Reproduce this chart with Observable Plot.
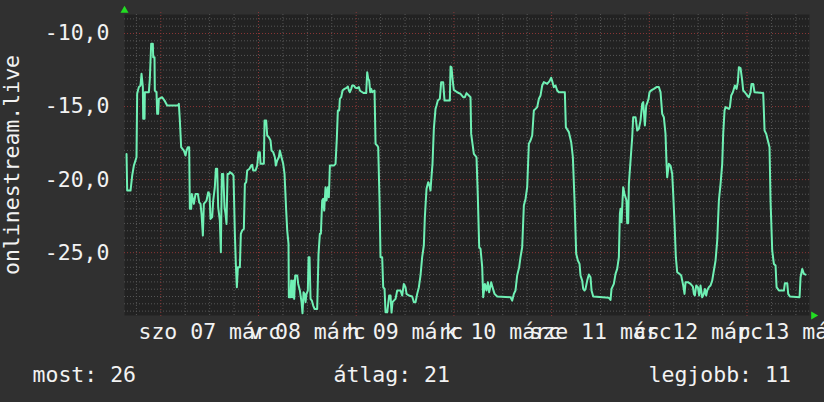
<!DOCTYPE html>
<html><head><meta charset="utf-8">
<script src="https://cdn.jsdelivr.net/npm/d3@7"></script>
<script src="https://cdn.jsdelivr.net/npm/@observablehq/plot@0.6"></script>
<style>
html,body{margin:0;padding:0;background:#303030;}
#chart{position:relative;width:824px;height:402px;overflow:hidden;}
</style></head><body><div id="chart"></div>
<script>
// hours since 2020-03-06 00:00 (local)
const hours = [
15.58,15.74,16.56,16.97,17.38,18.03,18.19,18.60,19.01,19.26,
19.59,19.67,20.00,20.08,21.06,21.31,21.63,22.04,22.13,22.45,
22.53,22.94,23.11,23.35,23.52,24.34,24.91,25.56,28.19,28.43,
28.68,29.00,29.66,30.07,30.31,30.64,30.97,31.13,31.46,31.62,
32.12,32.53,33.10,33.43,33.75,34.00,34.33,34.57,35.23,35.64,
35.96,36.21,36.62,36.87,37.27,37.52,37.85,38.09,38.50,38.75,
38.99,39.32,39.65,39.90,40.14,40.39,40.71,40.96,41.53,41.86,
42.19,42.43,42.68,42.93,43.42,43.66,43.99,44.40,44.65,44.97,
45.22,45.79,46.20,46.45,46.69,47.27,47.68,48.00,48.33,48.49,
49.31,49.48,49.89,50.13,50.54,50.95,51.20,51.61,52.02,52.26,
52.59,53.00,53.24,53.65,54.06,54.39,54.80,55.05,55.37,55.45,
55.86,56.03,56.27,56.52,56.76,57.01,57.50,57.75,58.16,58.57,
58.81,59.06,59.30,59.55,59.79,60.12,60.29,60.53,60.78,61.10,
61.43,61.76,62.41,62.74,63.07,63.32,63.64,63.89,64.13,64.46,
64.71,65.04,65.28,65.53,66.51,66.92,67.25,67.49,67.82,67.98,
68.31,68.64,69.13,69.62,69.95,70.20,70.44,70.77,71.01,71.42,
71.83,72.24,72.65,72.90,73.22,73.88,74.45,74.70,74.94,75.19,
75.44,75.68,75.93,76.50,76.75,77.16,77.40,77.73,77.97,78.38,
78.63,78.96,79.20,79.61,79.86,80.10,80.43,80.68,80.92,81.25,
81.66,82.07,82.48,
82.88,83.29,83.70,84.11,84.36,84.93,85.75,86.16,86.57,86.98,
87.39,87.80,88.20,88.61,88.86,89.27,89.68,90.01,90.25,90.42,
90.74,91.07,91.48,91.73,92.05,92.54,92.87,93.36,93.69,95.00,
95.17,95.41,95.66,95.98,96.80,97.62,98.28,98.69,99.10,99.67,
100.08,100.24,100.90,101.55,101.88,102.21,102.54,102.95,103.19,103.60,
104.01,104.34,104.66,105.16,105.48,105.98,106.63,109.91,110.32,110.73,
111.13,111.54,112.03,112.36,112.77,113.18,113.59,114.00,114.41,114.82,
115.23,115.64,116.05,116.46,116.87,117.28,117.69,118.09,118.91,119.49,
119.90,120.22,120.55,120.96,121.37,121.78,123.25,123.50,124.24,124.81,
125.22,125.63,126.04,126.45,126.86,127.10,127.51,127.76,128.09,128.33,
128.74,129.15,129.56,129.81,130.22,134.06,134.47,134.72,135.29,135.70,
136.11,136.52,136.77,136.93,137.18,137.42,137.59,137.91,138.40,138.57,
138.81,138.98,139.39,139.80,140.04,140.62,141.03,141.43,141.84,142.25,
142.50,142.91,143.24,143.56,143.81,144.05,144.46,145.12,145.77,146.35,
146.76,147.17,147.57,147.98,148.23,148.39,148.80,149.21,149.62,149.87,
150.20,150.52,150.85,151.42,151.83,152.33,152.65,152.90,153.47,154.13,
154.70,154.95,155.19,155.52,155.93,156.26,156.58,156.99,157.40,157.65,
157.97,158.22,158.63,159.04,159.45,159.86,160.27,160.68,161.09,161.50,
161.91,162.15,162.48,162.73,163.54,163.79,164.12,164.53,165.02,165.43,
165.75,166.00,166.41,166.82,167.06,167.47,168.05,168.46,168.87,169.11,
169.52,169.85,171.98,172.31,172.72,173.12,173.53,173.78,174.19,174.60,
175.01,175.26,175.83,177.06,177.31,177.88,178.12,178.53,180.91,181.15,
181.56,181.97,182.38
];
const values = [
-18.24,-20.75,-20.75,-19.72,-19.04,-18.47,-14.13,-13.67,-13.56,-12.76,
-13.67,-15.84,-15.84,-14.02,-14.02,-13.10,-10.71,-10.71,-11.62,-11.62,
-13.90,-14.02,-15.50,-15.50,-14.47,-14.36,-14.59,-14.93,-14.93,-14.82,
-15.96,-17.78,-18.01,-18.35,-18.01,-17.78,-17.78,-22.00,-22.00,-20.98,
-21.66,-20.98,-20.98,-21.55,-21.66,-22.34,-23.83,-21.66,-21.43,-20.86,
-20.98,-22.69,-22.57,-21.43,-20.52,-19.26,-19.26,-21.89,-22.80,-24.97,
-19.61,-19.61,-21.89,-22.34,-23.03,-19.61,-19.61,-19.49,-19.61,-19.72,
-23.71,-25.77,-27.36,-25.99,-25.99,-23.71,-23.48,-23.37,-20.29,-20.18,
-19.38,-19.26,-19.04,-18.99,-19.38,-19.38,-19.04,-18.12,-18.12,-18.92,
-18.92,-15.96,-15.96,-16.98,-17.10,-17.32,-18.01,-18.12,-18.47,-19.04,
-18.69,-18.47,-18.01,-18.47,-18.92,-19.61,-22.12,-23.48,-24.40,-28.05,
-28.05,-26.91,-28.05,-26.91,-28.16,-26.56,-26.56,-27.14,-27.59,-28.39,
-29.15,-27.71,-27.82,-28.39,-27.82,-27.59,-25.31,-25.31,-28.16,-28.28,
-28.62,-28.85,-28.85,-25.08,-23.71,-23.71,-21.43,-21.32,-22.12,-20.52,
-21.43,-20.52,-21.20,-19.04,-19.04,-18.92,-17.10,-15.27,-15.27,-14.47,
-14.36,-13.90,-13.79,-13.72,-13.63,-13.90,-14.02,-13.79,-13.56,-13.56,
-13.72,-13.74,-13.67,-13.90,-13.97,-14.08,-14.08,-12.65,-13.10,-13.22,
-14.02,-13.79,-14.02,-13.90,-17.55,-17.67,-17.78,-21.43,-25.31,-25.31,
-27.36,-27.48,-29.08,-29.08,-28.50,-27.93,-27.93,-29.10,-28.39,-28.28,
-28.16,-27.59,-27.59,
-27.59,-27.93,-27.14,-27.36,-27.82,-27.93,-28.00,-28.39,-28.39,-27.82,
-27.36,-26.56,-25.31,-24.51,-22.57,-20.63,-20.18,-20.41,-20.75,-20.06,
-18.92,-16.53,-15.16,-14.93,-14.59,-14.47,-13.33,-13.33,-14.59,-14.59,
-12.26,-12.31,-13.10,-13.86,-14.02,-14.13,-14.36,-14.36,-14.08,-14.24,
-14.36,-16.87,-18.24,-18.47,-21.20,-24.63,-24.74,-25.99,-28.05,-27.14,
-27.59,-27.02,-27.71,-27.02,-27.36,-27.82,-28.00,-28.05,-28.28,-27.82,
-27.59,-26.56,-25.99,-25.31,-24.63,-21.77,-21.32,-20.52,-17.55,-17.32,
-16.98,-15.27,-15.16,-15.04,-14.47,-14.24,-13.56,-13.33,-13.45,-13.26,
-13.03,-13.33,-13.67,-13.56,-13.90,-14.02,-14.02,-16.41,-16.75,-17.44,
-18.47,-21.43,-25.08,-25.54,-25.77,-26.56,-26.91,-27.48,-27.59,-27.48,
-26.91,-26.50,-26.68,-27.59,-28.00,-28.09,-28.23,-27.48,-27.14,-26.45,
-26.11,-25.31,-22.34,-22.00,-22.91,-21.43,-20.52,-20.98,-21.43,-22.98,
-22.98,-20.29,-18.69,-17.10,-15.73,-15.73,-16.64,-16.53,-15.96,-14.81,
-14.70,-16.30,-14.93,-14.70,-14.47,-14.02,-13.90,-13.79,-13.67,-13.67,
-14.02,-15.50,-15.73,-16.87,-18.92,-19.84,-18.92,-19.04,-19.61,-20.98,
-23.03,-25.31,-26.34,-26.45,-26.56,-27.25,-27.82,-27.02,-27.02,-27.14,
-27.32,-27.82,-27.93,-27.25,-27.36,-27.93,-27.25,-28.05,-27.82,-27.48,
-27.93,-27.59,-27.36,-27.25,-26.91,-26.22,-25.54,-24.17,-21.43,-20.29,
-18.92,-16.87,-15.27,-15.04,-15.16,-15.04,-14.24,-14.02,-13.56,-13.79,
-13.33,-12.31,-12.37,-13.22,-13.90,-14.02,-14.24,-14.36,-14.02,-13.45,
-13.45,-14.02,-14.08,-16.64,-16.87,-17.32,-17.78,-21.43,-24.85,-25.77,
-25.88,-27.36,-27.59,-27.59,-27.09,-27.09,-27.82,-28.00,-28.05,-26.68,
-26.11,-26.45,-26.50
];
const yTicks = [-10, -15, -20, -25];
const dayNumbers = [7, 8, 9, 10, 11, 12, 13];
const dayLabels = ["szo 07 márc", "v 08 márc", "h 09 márc", "k 10 márc", "sze 11 márc", "cs 12 márc", "p 13 márc"];
const legendLabels = ["most: 26", "átlag: 21", "legjobb: 11"];
const axisTitle = "onlinestream.live";
const startHour = 15.08, endHour = 183.35;
const yMin = -29.3, yMax = -8.7;

const base = new Date(2020, 2, 6);
const toDate = h => new Date(base.getTime() + h * 3600e3);
const data = hours.map((h, i) => ({t: toDate(h), v: values[i]}));
const t0 = toDate(startHour), t1 = toDate(endHour);
const majorX = d3.timeDay.range(t0, t1);
const minorX = d3.timeHour.every(6).range(t0, t1).filter(d => d.getHours() !== 0);
const noonX = dayNumbers.map(d => new Date(2020, 2, d, 12));
const minorY = d3.range(-58, -17).map(k => k / 2).filter(v => v % 5 !== 0);

const FONT = "'DejaVu Sans Mono', monospace";
const TXT = "#f2f2f2";
const GRID = "#565656";
const MAJOR = "#8a3636";

const chart = Plot.plot({
  width: 824, height: 402,
  marginLeft: 124, marginRight: 15, marginTop: 14, marginBottom: 87,
  x: {type: "time", domain: [t0, t1]},
  y: {domain: [yMin, yMax]},
  style: {background: "transparent", color: TXT, fontFamily: FONT, fontSize: "21.5px"},
  marks: [
    Plot.frame({fill: "#222222", stroke: null}),
    Plot.gridX(minorX, {stroke: GRID, strokeOpacity: 1, strokeDasharray: "1,2"}),
    Plot.gridY(minorY, {stroke: GRID, strokeOpacity: 1, strokeDasharray: "1,2"}),
    Plot.gridX(majorX, {stroke: MAJOR, strokeOpacity: 1, strokeDasharray: "1,2", insetTop: -2, insetBottom: -3}),
    Plot.gridY(yTicks, {stroke: MAJOR, strokeOpacity: 1, strokeDasharray: "1,2"}),
    Plot.axisY(yTicks, {tickSize: 0, tickPadding: 15, label: null, tickFormat: d => d.toFixed(1).replace(".", ",")}),
    Plot.axisX(noonX, {tickSize: 0, tickPadding: 8, label: null, tickFormat: d => dayLabels[dayNumbers.indexOf(d.getDate())]}),
    Plot.line(data, {x: "t", y: "v", stroke: "#6ff0b4", strokeWidth: 2}),
    Plot.text([axisTitle], {text: d => d, frameAnchor: "left", rotate: -90, textAnchor: "middle", lineAnchor: "bottom", dx: -106, fill: TXT}),
    Plot.text([legendLabels[0]], {text: d => d, frameAnchor: "bottom-left", textAnchor: "start", lineAnchor: "bottom", dx: -92, dy: 66, fill: TXT}),
    Plot.text([legendLabels[1]], {text: d => d, frameAnchor: "bottom-left", textAnchor: "start", lineAnchor: "bottom", dx: 209, dy: 66, fill: TXT}),
    Plot.text([legendLabels[2]], {text: d => d, frameAnchor: "bottom-left", textAnchor: "start", lineAnchor: "bottom", dx: 524, dy: 66, fill: TXT}),
    Plot.dot([0], {frameAnchor: "top-left", symbol: "triangle", r: 3, fill: "#22dd22", stroke: null, dy: -4}),
    Plot.dot([0], {frameAnchor: "bottom-right", symbol: "triangle", rotate: 90, r: 3, fill: "#22dd22", stroke: null, dx: 4})
  ]
});
document.getElementById("chart").appendChild(chart);
</script></body></html>
